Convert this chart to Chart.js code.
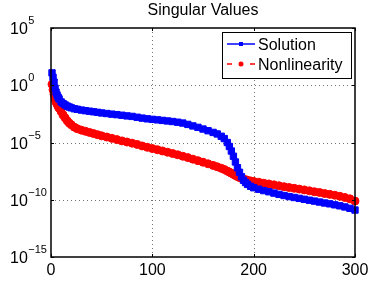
<!DOCTYPE html>
<html>
<head>
<meta charset="utf-8">
<script src="https://cdn.jsdelivr.net/npm/chart.js@4"></script>
<style>
  html, body { margin: 0; padding: 0; background: #fff; }
  canvas { display: block; }
</style>
</head>
<body>
<canvas id="svdChart" width="368" height="281"></canvas>
<script>
// singular value index (x) and values
const ranks = [1, 2, 3, 4, 5, 6, 7, 8, 10, 12, 14, 16, 18, 20, 23, 26, 30, 34, 38, 42, 46, 50,
  55, 60, 65, 70, 75, 80, 85, 90, 95, 100, 105, 110, 115, 120, 125, 130, 135, 140, 145, 150,
  155, 160, 164, 168, 171, 174, 176, 178, 180, 182, 184, 186, 188, 190, 192, 194, 197, 200,
  205, 210, 215, 220, 225, 230, 235, 240, 245, 250, 255, 260, 265, 270, 275, 280, 285, 290, 295, 300];

const solution = [1.2e1, 5.0e0, 1.9e0, 5.5e-1, 2.5e-1, 1.4e-1, 8.9e-2, 6.3e-2, 3.5e-2, 2.5e-2,
  1.9e-2, 1.5e-2, 1.26e-2, 1.07e-2, 8.9e-3, 7.9e-3, 6.8e-3, 6.0e-3, 5.4e-3, 4.8e-3, 4.3e-3, 3.8e-3,
  3.4e-3, 3.0e-3, 2.7e-3, 2.4e-3, 2.1e-3, 1.9e-3, 1.6e-3, 1.35e-3, 1.17e-3, 1.05e-3, 9.5e-4, 8.5e-4,
  7.6e-4, 6.8e-4, 5.9e-4, 5.0e-4, 3.8e-4, 2.8e-4, 2.1e-4, 1.5e-4, 1.07e-4, 7.6e-5, 5.6e-5, 3.5e-5,
  2.2e-5, 1.0e-5, 4.5e-6, 1.8e-6, 6.3e-7, 2.0e-7, 6.3e-8, 2.5e-8, 1.0e-8, 5.0e-9, 3.2e-9, 2.2e-9,
  1.5e-9, 1.12e-9, 8.3e-10, 6.3e-10, 5.0e-10, 3.8e-10, 2.95e-10, 2.35e-10, 1.9e-10, 1.58e-10,
  1.32e-10, 1.1e-10, 9.1e-11, 7.6e-11, 6.3e-11, 5.2e-11, 4.4e-11, 3.6e-11, 2.95e-11, 2.35e-11,
  1.78e-11, 1.26e-11];

const nonlinearity = [1.2e0, 4.0e-1, 1.6e-1, 6.3e-2, 3.2e-2, 2.2e-2, 1.4e-2, 1.0e-2, 5.0e-3, 2.5e-3,
  1.4e-3, 7.9e-4, 5.0e-4, 3.5e-4, 2.2e-4, 1.6e-4, 1.2e-4, 9.5e-5, 7.6e-5, 6.0e-5, 4.8e-5, 3.8e-5,
  3.0e-5, 2.3e-5, 1.8e-5, 1.38e-5, 1.1e-5, 8.7e-6, 6.8e-6, 5.0e-6, 3.8e-6, 2.95e-6, 2.35e-6, 1.82e-6,
  1.41e-6, 1.1e-6, 8.5e-7, 6.3e-7, 4.8e-7, 3.5e-7, 2.6e-7, 1.9e-7, 1.38e-7, 1.0e-7, 7.6e-8, 5.6e-8,
  4.4e-8, 3.2e-8, 2.6e-8, 2.1e-8, 1.66e-8, 1.32e-8, 1.05e-8, 8.7e-9, 7.4e-9, 6.3e-9, 5.6e-9, 5.0e-9,
  4.4e-9, 4.0e-9, 3.4e-9, 2.8e-9, 2.4e-9, 2.0e-9, 1.66e-9, 1.38e-9, 1.17e-9, 1.0e-9, 8.5e-10,
  7.2e-10, 6.0e-10, 5.0e-10, 4.3e-10, 3.5e-10, 2.95e-10, 2.5e-10, 2.0e-10, 1.58e-10, 1.2e-10, 7.6e-11];

const xTicks = [0, 100, 200, 300];
const yExponents = [5, 0, -5, -10, -15];
const seriesNames = ['Solution', 'Nonlinearity'];

const FONT = '"Liberation Sans", Arial, Helvetica, sans-serif';

const decorations = {
  id: 'decorations',
  beforeDatasetsDraw(chart) {
    const { ctx, chartArea: a, scales: { x, y } } = chart;
    ctx.save();
    ctx.strokeStyle = 'rgba(0,0,0,0.55)';
    ctx.lineWidth = 1;
    ctx.setLineDash([1, 3]);
    xTicks.slice(1, -1).forEach(v => {
      const px = Math.round(x.getPixelForValue(v)) + 0.5;
      ctx.beginPath(); ctx.moveTo(px, a.top); ctx.lineTo(px, a.bottom); ctx.stroke();
    });
    yExponents.slice(1, -1).forEach(e => {
      const py = Math.round(y.getPixelForValue(Math.pow(10, e))) + 0.5;
      ctx.beginPath(); ctx.moveTo(a.left, py); ctx.lineTo(a.right, py); ctx.stroke();
    });
    ctx.restore();
  },
  afterDatasetsDraw(chart) {
    const { ctx, chartArea: a, scales: { x, y } } = chart;
    ctx.save();
    // axes box and inward ticks
    ctx.strokeStyle = '#000';
    ctx.lineWidth = 1.5;
    ctx.strokeRect(a.left, a.top, a.right - a.left, a.bottom - a.top);
    ctx.lineWidth = 1;
    xTicks.forEach(v => {
      const px = Math.round(x.getPixelForValue(v)) + 0.5;
      ctx.beginPath();
      ctx.moveTo(px, a.bottom); ctx.lineTo(px, a.bottom - 3);
      ctx.moveTo(px, a.top); ctx.lineTo(px, a.top + 3);
      ctx.stroke();
    });
    yExponents.forEach(e => {
      const py = Math.round(y.getPixelForValue(Math.pow(10, e))) + 0.5;
      ctx.beginPath();
      ctx.moveTo(a.left, py); ctx.lineTo(a.left + 3, py);
      ctx.moveTo(a.right, py); ctx.lineTo(a.right - 3, py);
      ctx.stroke();
    });

    ctx.fillStyle = '#000';
    ctx.textBaseline = 'alphabetic';

    // x tick labels
    ctx.font = '16px ' + FONT;
    ctx.textAlign = 'center';
    xTicks.forEach(v => {
      ctx.fillText(String(v), x.getPixelForValue(v), a.bottom + 18);
    });

    // y tick labels 10^k
    ctx.textAlign = 'left';
    yExponents.forEach(e => {
      const py = y.getPixelForValue(Math.pow(10, e));
      ctx.font = '16px ' + FONT;
      ctx.fillText('10', 10, py + 6);
      const w = ctx.measureText('10').width;
      ctx.font = '11px ' + FONT;
      ctx.fillText(e < 0 ? '\u2212' + (-e) : String(e), 10 + w + 0.5, py - 4);
    });

    // title
    ctx.font = '16px ' + FONT;
    ctx.textAlign = 'center';
    ctx.fillText('Singular Values', (a.left + a.right) / 2, 15);

    // legend
    const lx = 222, ly = 32, lw = 129, lh = 46;
    ctx.fillStyle = '#fff';
    ctx.fillRect(lx, ly, lw, lh);
    ctx.strokeStyle = '#000';
    ctx.lineWidth = 1;
    ctx.strokeRect(lx + 0.5, ly + 0.5, lw, lh);
    const rows = [44, 64];
    // Solution: solid line with square
    ctx.strokeStyle = '#0000ff';
    ctx.lineWidth = 1.5;
    ctx.beginPath(); ctx.moveTo(227, rows[0]); ctx.lineTo(255, rows[0]); ctx.stroke();
    ctx.fillStyle = '#0000ff';
    ctx.fillRect(239, rows[0] - 2, 4, 4);
    // Nonlinearity: dashed line with dot
    ctx.strokeStyle = '#ff0000';
    ctx.beginPath();
    ctx.moveTo(227, rows[1]); ctx.lineTo(232, rows[1]);
    ctx.moveTo(250, rows[1]); ctx.lineTo(255, rows[1]);
    ctx.stroke();
    ctx.fillStyle = '#ff0000';
    ctx.beginPath(); ctx.arc(241, rows[1], 2.5, 0, Math.PI * 2); ctx.fill();
    ctx.fillStyle = '#000';
    ctx.font = '16px ' + FONT;
    ctx.textAlign = 'left';
    ctx.fillText(seriesNames[0], 258, rows[0] + 6);
    ctx.fillText(seriesNames[1], 258, rows[1] + 6);
    ctx.restore();
  }
};

const ctx = document.getElementById('svdChart').getContext('2d');
new Chart(ctx, {
  type: 'line',
  data: {
    datasets: [{
      label: seriesNames[0],
      data: ranks.map((r, i) => ({ x: r, y: solution[i] })),
      borderColor: '#0000ff',
      borderWidth: 1.5,
      pointStyle: 'rect',
      pointRadius: 4.5,
      pointBorderWidth: 1,
      pointBackgroundColor: '#0000ff',
      pointBorderColor: '#0000ff',
      clip: false
    }, {
      label: seriesNames[1],
      data: ranks.map((r, i) => ({ x: r, y: nonlinearity[i] })),
      borderColor: '#ff0000',
      borderWidth: 1.5,
      borderDash: [5, 4],
      pointStyle: 'circle',
      pointRadius: 4,
      pointBorderWidth: 1,
      pointBackgroundColor: '#ff0000',
      pointBorderColor: '#ff0000',
      clip: false
    }]
  },
  options: {
    responsive: false,
    animation: false,
    layout: { padding: { left: 0, right: 13, top: 28, bottom: 0 } },
    plugins: {
      legend: { display: false },
      title: { display: false },
      tooltip: { enabled: false }
    },
    scales: {
      x: {
        type: 'linear',
        min: 0,
        max: 300,
        afterFit: s => { s.height = 24; },
        grid: { display: false, drawTicks: false },
        border: { display: false },
        ticks: { display: false }
      },
      y: {
        type: 'logarithmic',
        min: 1e-15,
        max: 1e5,
        afterFit: s => { s.width = 51; },
        grid: { display: false, drawTicks: false },
        border: { display: false },
        ticks: { display: false }
      }
    }
  },
  plugins: [decorations]
});
</script>
</body>
</html>
